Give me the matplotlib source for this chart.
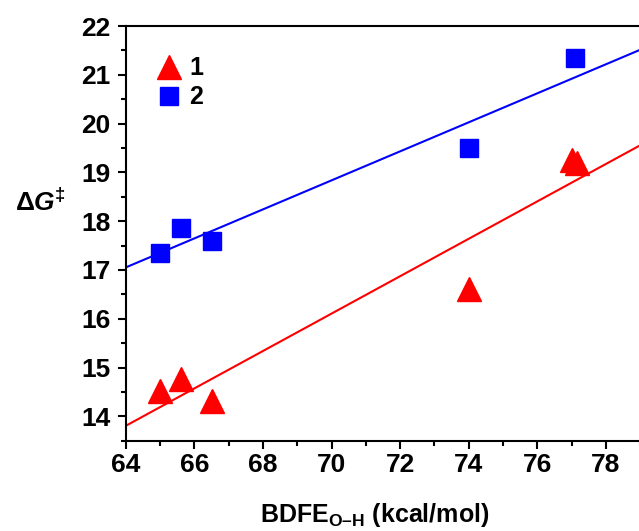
import numpy as np
import matplotlib
matplotlib.use('agg')
import matplotlib.pyplot as plt
from matplotlib.ticker import MultipleLocator

plt.rcParams['font.family'] = ['Liberation Sans', 'DejaVu Sans']
plt.rcParams['font.weight'] = 'bold'
plt.rcParams['mathtext.fontset'] = 'custom'
plt.rcParams['mathtext.rm'] = 'Liberation Sans:bold'
plt.rcParams['mathtext.it'] = 'Liberation Sans:bold:italic'
plt.rcParams['mathtext.bf'] = 'Liberation Sans:bold'

# series 1 (red triangles)
bdfe_1 = [65.0, 65.6, 66.5, 74.0, 77.0, 77.15]
dg_1 = [14.52, 14.77, 14.31, 16.6, 19.25, 19.2]
# series 2 (blue squares)
bdfe_2 = [65.0, 65.6, 66.5, 74.0, 77.1]
dg_2 = [17.34, 17.86, 17.6, 19.51, 21.34]
labels = ['1', '2']
xticks = [64, 66, 68, 70, 72, 74, 76, 78]

fig = plt.figure(figsize=(6.39, 5.31), dpi=100)
ax = fig.add_axes([0.197, 0.170, 0.8585, 0.781])

p1, = ax.plot(bdfe_1, dg_1, linestyle='none', marker='^', ms=17, color='#ff0000', mec='#ff0000')
p2, = ax.plot(bdfe_2, dg_2, linestyle='none', marker='s', ms=13, color='#0000ff', mec='#0000ff')

# linear fits
xf = np.array([64, 80])
k1, b1 = np.polyfit(bdfe_1, dg_1, 1)
k2, b2 = np.polyfit(bdfe_2, dg_2, 1)
ax.plot(xf, k1 * xf + b1, color='#ff0000', lw=1.5, zorder=1)
ax.plot(xf, k2 * xf + b2, color='#0000ff', lw=1.5, zorder=1)

ax.set_xlim(64, 80)
ax.set_ylim(13.5, 22)
ax.set_xticks(xticks)
ax.xaxis.set_minor_locator(MultipleLocator(1))
ax.yaxis.set_major_locator(MultipleLocator(1))
ax.yaxis.set_minor_locator(MultipleLocator(0.5))
ax.tick_params(which='major', direction='out', length=6, width=1.5, labelsize=19)
ax.tick_params(which='minor', direction='out', length=3.5, width=1.5)
ax.tick_params(axis='x', which='major', pad=3)
ax.tick_params(axis='y', which='major', pad=5)
for s in ax.spines.values():
    s.set_linewidth(1.5)

ax.legend([p1, p2], labels, loc='upper left', bbox_to_anchor=(0.0565, 0.927),
          frameon=False, fontsize=18, borderpad=0, borderaxespad=0,
          handlelength=1.0, handletextpad=0.3, labelspacing=0.2)

fig.text(375 / 639, 1 - 515 / 531, 'BDFE$_{\\mathrm{O\u2013H}}$ (kcal/mol)',
         ha='center', va='center', fontsize=18, fontweight='bold')
fig.text(40 / 639, 1 - 202 / 531, '\u0394$\\mathit{G}$$^{\\mathrm{\u2021}}$',
         ha='center', va='center', fontsize=19, fontweight='bold')

fig.savefig('out.png', dpi=100)
